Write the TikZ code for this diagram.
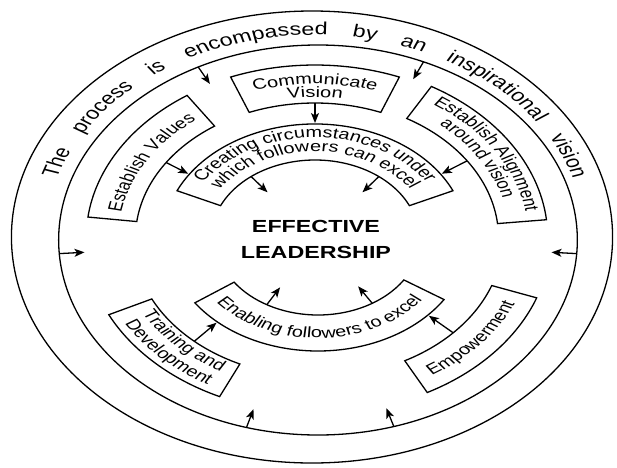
\documentclass[tikz,border=0pt]{standalone}
\usepackage{fontspec}
\setmainfont{Liberation Sans}
\usetikzlibrary{arrows.meta,decorations.text}
\newcommand\lblfont{\fontsize{15}{15}\selectfont}
\newcommand\outfont{\fontsize{17.5}{17.5}\selectfont}
\newcommand\ctrfont{\fontsize{17.5}{20}\selectfont\bfseries}
\tikzset{
  ring/.style={line width=1.3pt},
  sectorbox/.style={line width=1.3pt},
  arr/.style={line width=1.3pt,-{Stealth[length=10pt,width=8pt,inset=2.5pt]}},
}
% #1 start angle, #2 end angle, #3 outer radius, #4 inner radius
\newcommand\ringsector[4]{%
  \draw[sectorbox] (#1:#3) arc[start angle=#1,end angle=#2,radius=#3]
     -- (#2:#4) arc[start angle=#2,end angle=#1,radius=#4] -- cycle;}
% #1 start angle, #2 end angle, #3 radius, #4 text
\newcommand\arclabel[4]{%
  \path[decorate,decoration={text along path,text={|\lblfont|#4},text align=center}]
     (#1:#3) arc[start angle=#1,end angle=#2,radius=#3];}
\begin{document}
\begin{tikzpicture}[x=1pt,y=1pt]
\useasboundingbox (-315,-229) rectangle (302,238);
% ---------- shapes (circle space stretched horizontally) ----------
\begin{scope}[xscale=1.33]
  \draw[ring] (-2.25,1) circle[radius=226pt];
  \draw[ring] (2.25,-2) circle[radius=195pt];
  % upper boxes
  \ringsector{68.5}{111.5}{173pt}{135pt}   % Communicate Vision
  \ringsector{124}{173}{172pt}{135pt}      % Establish Values
  \ringsector{6}{60}{175pt}{138pt}         % Establish Alignment
  \ringsector{24.5}{155.5}{114pt}{78pt}    % Creating circumstances
  \draw[arr] (90:135pt) -- (90:115pt);
  \draw[arr] (146:135pt) -- (146:115pt);
  \draw[arr] (34:138pt) -- (34:115pt);
  \draw[arr] (128:78pt) -- (128:58pt);
  \draw[arr] (52:78pt) -- (52:58pt);
  % lower boxes
  \begin{scope}[shift={(2.25,0)}]
    \ringsector{215}{327}{113pt}{77pt}     % Enabling
    \ringsector{206}{245}{175pt}{139pt}    % Training
    \ringsector{298}{340}{175pt}{139pt}    % Empowerment
    \draw[arr] (228:139pt) -- (228:114pt);
    \draw[arr] (317:139pt) -- (317:114pt);
    \draw[arr] (240:77pt) -- (240:57pt);
    \draw[arr] (302:77pt) -- (302:57pt);
  \end{scope}
  % arrows from the vision ring
  \begin{scope}[shift={(2.25,-2)}]
    \draw[arr] (117.5:195pt) -- (117.5:176pt);
    \draw[arr] (66:195pt) -- (66:176pt);
    \draw[arr] (184:195pt) -- (184:176pt);
    \draw[arr] (356:195pt) -- (356:176pt);
    \draw[arr] (254:195pt) -- (254:176pt);
    \draw[arr] (287:195pt) -- (287:176pt);
  \end{scope}
\end{scope}
% ---------- texts (whole canvas stretched horizontally) ----------
\begin{scope}[transform canvas={xscale=1.33}]
  \path[decorate,decoration={text along path,
      text={|\outfont|The process is encompassed by an inspirational vision},
      text align={fit to path stretching spaces}}]
      (163:203pt) arc[start angle=163,end angle=17,radius=203pt];
  \arclabel{111.5}{68.5}{154pt}{Communicate}
  \arclabel{111.5}{68.5}{141pt}{Vision}
  \arclabel{173}{124}{148pt}{Establish Values}
  \arclabel{60}{6}{160.5pt}{Establish Alignment}
  \arclabel{60}{6}{146.5pt}{around vision}
  \arclabel{155.5}{24.5}{100.5pt}{Creating circumstances under}
  \arclabel{155.5}{24.5}{86.5pt}{which followers can excel}
  \begin{scope}[shift={(2.25,0)}]
    \arclabel{215}{327}{100pt}{Enabling followers to excel}
    \arclabel{206}{245}{152pt}{Training and}
    \arclabel{206}{245}{168.5pt}{Development}
    \arclabel{298}{340}{162pt}{Empowerment}
  \end{scope}
  \node[font=\ctrfont] (eff) at (0.75,12) {EFFECTIVE};
  \node[font=\ctrfont] (lead) at (0.75,-14) {LEADERSHIP};
\end{scope}
\end{tikzpicture}
\end{document}
